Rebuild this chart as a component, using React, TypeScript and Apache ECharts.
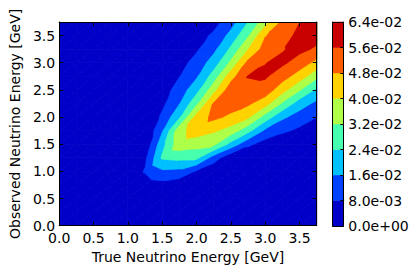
import React, { useEffect, useRef } from "react";
import * as echarts from "echarts";

// Grid coordinates (GeV)
const xValues = [0, 0.25, 0.5, 0.75, 1.0, 1.25, 1.5, 1.75, 2.0, 2.25, 2.5, 2.75, 3.0, 3.25, 3.5, 3.75];
const yValues = [0, 0.25, 0.5, 0.75, 1.0, 1.25, 1.5, 1.75, 2.0, 2.25, 2.5, 2.75, 3.0, 3.25, 3.5, 3.75];

// Probability density, in units of 1e-3; zRows[j][i] -> (xValues[i], yValues[j])
const zRows = [
  [0, 0, 0, 0, 0.1, 0.1, 0, 0.2, 0.2, 0.1, 0.1, 0.1, 0.1, 0.2, 0.3, 0.3],
  [0, 0, 0, 0.1, 0.3, 0.5, 0.8, 0.5, 0.4, 0.2, 0.1, 0.1, 0.2, 0.3, 0.4, 0.5],
  [0, 0, 0, 0.2, 0.8, 1.5, 2, 1.2, 1, 0.4, 0.2, 0.2, 0.3, 0.5, 0.6, 0.8],
  [0, 0, 0, 0.4, 2, 4, 5, 2.7, 2.5, 0.8, 0.3, 0.3, 0.5, 0.8, 0.8, 1.2],
  [0, 0, 0, 0.6, 3, 8.6, 14.5, 13.8, 7, 2, 0.7, 0.5, 0.8, 1, 1, 1.5],
  [0, 0, 0, 0.5, 1.5, 6, 25, 26.1, 25.9, 12, 1.7, 1, 1.5, 1.2, 1.5, 2],
  [0, 0, 0, 0.3, 0.5, 1.5, 21, 37, 35.3, 33.7, 21.3, 9.7, 4.4, 2, 3.5, 3.5],
  [0, 0, 0, 0.2, 0.2, 0.5, 15, 37, 44, 41, 36.6, 26.5, 14.4, 9.5, 6.3, 5.5],
  [0, 0, 0, 0.1, 0.1, 0.3, 9.5, 22.5, 43, 50, 46.2, 41.1, 28.6, 17.5, 12.4, 8.1],
  [0, 0, 0, 0.1, 0.1, 0.3, 6, 15.5, 30, 48.5, 52, 49.3, 43.4, 30.9, 19.8, 14.1],
  [0, 0, 0, 0, 0.1, 0.2, 4, 11.6, 21.1, 36.8, 53, 53.8, 52.5, 43, 32.5, 22.5],
  [0, 0, 0, 0, 0.1, 0.2, 2.5, 7.7, 14.9, 27.5, 44.6, 56.3, 57, 51.3, 44.2, 34],
  [0, 0, 0, 0, 0.1, 0.2, 1.5, 5, 10.9, 19.7, 33.5, 50.1, 55.8, 57.5, 52.4, 45.5],
  [0, 0, 0, 0, 0.1, 0.2, 1, 3.5, 6.9, 13.9, 25.5, 39.6, 51.6, 55.5, 58, 54.8],
  [0, 0, 0, 0, 0.1, 0.2, 0.7, 2.5, 4.5, 9.4, 18.5, 30.9, 47.5, 52, 58.5, 59],
  [0, 0, 0, 0, 0.1, 0.2, 0.5, 2, 3, 5, 12.5, 24, 36.6, 49.7, 55.8, 59.5],
];
const zUnit = 1e-3;

// Contour levels and band colours (jet)
const levels = [0, 0.008, 0.016, 0.024, 0.032, 0.04, 0.048, 0.056, 0.064];
const bandColors = ["#0000c8", "#0040ff", "#00c0ff", "#48ffaf", "#afff48", "#ffd200", "#ff5c00", "#c80000"];

const xTitle = "True Neutrino Energy [GeV]";
const yTitle = "Observed Neutrino Energy [GeV]";

type P = [number, number, number];

function clipAbove(poly: P[], L: number): P[] {
  const out: P[] = [];
  for (let k = 0; k < poly.length; k++) {
    const a = poly[k];
    const b = poly[(k + 1) % poly.length];
    const ain = a[2] >= L;
    const bin = b[2] >= L;
    if (ain) out.push(a);
    if (ain !== bin) {
      const t = (L - a[2]) / (b[2] - a[2]);
      out.push([a[0] + t * (b[0] - a[0]), a[1] + t * (b[1] - a[1]), L]);
    }
  }
  return out;
}

function sci(v: number): string {
  if (Math.abs(v) < 1e-12) return "0.0e+00";
  const s = v.toExponential(1);
  const [m, e] = s.split("e");
  const n = parseInt(e, 10);
  const a = Math.abs(n);
  return m + "e" + (n < 0 ? "-" : "+") + (a < 10 ? "0" : "") + a;
}

// triangles of the grid (each cell split along its lower-left -> upper-right diagonal)
function gridTriangles(): P[][] {
  const tris: P[][] = [];
  for (let j = 0; j < yValues.length - 1; j++) {
    for (let i = 0; i < xValues.length - 1; i++) {
      const x0 = xValues[i], x1 = xValues[i + 1];
      const y0 = yValues[j], y1 = yValues[j + 1];
      const p00: P = [x0, y0, zRows[j][i] * zUnit];
      const p10: P = [x1, y0, zRows[j][i + 1] * zUnit];
      const p11: P = [x1, y1, zRows[j + 1][i + 1] * zUnit];
      const p01: P = [x0, y1, zRows[j + 1][i] * zUnit];
      tris.push([p00, p10, p11]);
      tris.push([p00, p11, p01]);
    }
  }
  return tris;
}

export default function App() {
  const ref = useRef<HTMLDivElement>(null);
  useEffect(() => {
    document.body.style.margin = "0";
    if (!ref.current) return;
    const chart = echarts.init(ref.current, undefined, { renderer: "svg" });

    const tris = gridTriangles();
    const layerItems = bandColors.map((_, k) => [levels[k], levels[k + 1], k]);
    const bands = levels.slice(0, -1).map((lo, k) => [lo, levels[k + 1], k]);

    const font = "DejaVu Sans";
    const axisColor = "#000";
    const mainX = (pos: "bottom" | "top", labels: boolean) => ({
      gridIndex: 0,
      type: "value",
      min: 0,
      max: 3.75,
      interval: 0.5,
      position: pos,
      z: 10,
      axisLine: { show: true, onZero: false, lineStyle: { color: axisColor, width: 1 } },
      axisTick: { show: true, inside: true, length: 4, lineStyle: { color: axisColor } },
      axisLabel: {
        show: labels,
        margin: 5,
        color: "#000",
        fontSize: 14,
        fontFamily: font,
        showMaxLabel: false,
        formatter: (v: number) => v.toFixed(1),
      },
      splitLine: { show: false },
      ...(labels
        ? {
            name: xTitle,
            nameLocation: "middle",
            nameGap: 18,
            nameTextStyle: { color: "#000", fontSize: 14, fontFamily: font },
          }
        : {}),
    });
    const mainY = (pos: "left" | "right", labels: boolean) => ({
      gridIndex: 0,
      type: "value",
      min: 0,
      max: 3.75,
      interval: 0.5,
      position: pos,
      z: 10,
      axisLine: { show: true, onZero: false, lineStyle: { color: axisColor, width: 1 } },
      axisTick: { show: true, inside: true, length: 4, lineStyle: { color: axisColor } },
      axisLabel: {
        show: labels,
        margin: 4,
        color: "#000",
        fontSize: 14,
        fontFamily: font,
        showMaxLabel: false,
        formatter: (v: number) => v.toFixed(1),
      },
      splitLine: { show: false },
      ...(labels
        ? {
            name: yTitle,
            nameLocation: "middle",
            nameGap: 33,
            nameTextStyle: { color: "#000", fontSize: 14, fontFamily: font },
          }
        : {}),
    });
    const cbX = (pos: "bottom" | "top") => ({
      gridIndex: 1,
      type: "value",
      min: 0,
      max: 1,
      position: pos,
      z: 10,
      axisLine: { show: true, onZero: false, lineStyle: { color: axisColor, width: 1 } },
      axisTick: { show: false },
      axisLabel: { show: false },
      splitLine: { show: false },
    });
    const cbY = (pos: "left" | "right", labels: boolean) => ({
      gridIndex: 1,
      type: "value",
      min: 0,
      max: 0.064,
      interval: 0.008,
      position: pos,
      z: 10,
      axisLine: { show: true, onZero: false, lineStyle: { color: axisColor, width: 1 } },
      axisTick: { show: labels, inside: true, length: 3, lineStyle: { color: axisColor } },
      axisLabel: {
        show: labels,
        margin: 5,
        color: "#000",
        fontSize: 14,
        fontFamily: font,
        formatter: (v: number) => sci(v),
      },
      splitLine: { show: false },
    });

    const option: any = {
      animation: false,
      backgroundColor: "#fff",
      textStyle: { fontFamily: font },
      grid: [
        { left: 54, top: 22, width: 262.7, height: 203.7, containLabel: false },
        { left: 332.7, top: 22, width: 10.6, height: 204, containLabel: false },
      ],
      xAxis: [mainX("bottom", true), mainX("top", false), cbX("bottom"), cbX("top")],
      yAxis: [mainY("left", true), mainY("right", false), cbY("left", false), cbY("right", true)],
      series: [
        {
          type: "custom",
          xAxisIndex: 0,
          yAxisIndex: 0,
          silent: true,
          clip: true,
          data: layerItems,
          renderItem: (params: any, api: any) => {
            const k = layerItems[params.dataIndex][2];
            const L = levels[k];
            const color = bandColors[k];
            const children: any[] = [];
            for (const tri of tris) {
              const poly = k === 0 ? tri : clipAbove(tri, L);
              if (poly.length < 3) continue;
              children.push({
                type: "polygon",
                shape: { points: poly.map((p) => api.coord([p[0], p[1]])) },
                style: { fill: color, stroke: color, lineWidth: 0.8 },
              });
            }
            return { type: "group", children };
          },
        },
        {
          type: "custom",
          xAxisIndex: 2,
          yAxisIndex: 2,
          silent: true,
          data: bands,
          renderItem: (params: any, api: any) => {
            const [lo, hi, k] = bands[params.dataIndex];
            const a = api.coord([0, lo]);
            const b = api.coord([1, hi]);
            const color = bandColors[k];
            return {
              type: "rect",
              shape: { x: a[0], y: b[1], width: b[0] - a[0], height: a[1] - b[1] },
              style: { fill: color, stroke: color, lineWidth: 0.5 },
            };
          },
        },
      ],
    };
    chart.setOption(option);
    return () => chart.dispose();
  }, []);
  return <div ref={ref} style={{ width: 415, height: 270 }} />;
}
